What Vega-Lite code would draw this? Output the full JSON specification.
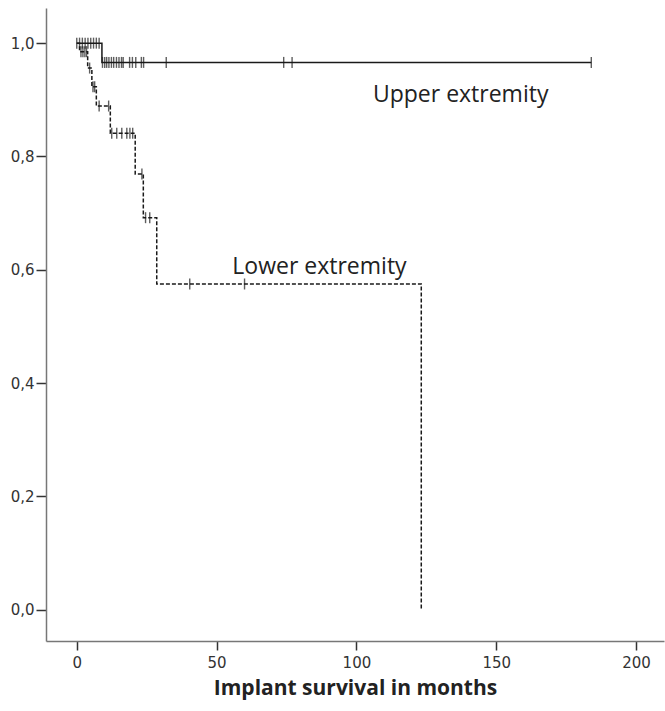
{
  "$schema": "https://vega.github.io/schema/vega-lite/v6.json",
  "width": 618,
  "height": 633,
  "autosize": {"type": "none"},
  "padding": {"left": 46, "top": 8, "right": 1, "bottom": 70},
  "background": "white",
  "config": {"view": {"stroke": null}},
  "datasets": {
    "curves": [
      {"group": "Upper", "t": 0, "s": 1.0},
      {"group": "Upper", "t": 9, "s": 0.966},
      {"group": "Upper", "t": 184, "s": 0.966},
      {"group": "Lower", "t": 0, "s": 1.0},
      {"group": "Lower", "t": 1, "s": 0.985},
      {"group": "Lower", "t": 3.9, "s": 0.956},
      {"group": "Lower", "t": 5.4, "s": 0.923},
      {"group": "Lower", "t": 7, "s": 0.889},
      {"group": "Lower", "t": 12, "s": 0.841},
      {"group": "Lower", "t": 20.9, "s": 0.769},
      {"group": "Lower", "t": 23.8, "s": 0.692},
      {"group": "Lower", "t": 28.6, "s": 0.575},
      {"group": "Lower", "t": 123.2, "s": 0.0}
    ],
    "censors": [
      {"group": "Upper", "t": 0.0, "s": 1.0},
      {"group": "Upper", "t": 1.0, "s": 1.0},
      {"group": "Upper", "t": 2.0, "s": 1.0},
      {"group": "Upper", "t": 3.0, "s": 1.0},
      {"group": "Upper", "t": 4.0, "s": 1.0},
      {"group": "Upper", "t": 5.0, "s": 1.0},
      {"group": "Upper", "t": 6.0, "s": 1.0},
      {"group": "Upper", "t": 7.0, "s": 1.0},
      {"group": "Upper", "t": 8.0, "s": 1.0},
      {"group": "Upper", "t": 9.2, "s": 0.966},
      {"group": "Upper", "t": 10.0, "s": 0.966},
      {"group": "Upper", "t": 10.7, "s": 0.966},
      {"group": "Upper", "t": 11.5, "s": 0.966},
      {"group": "Upper", "t": 12.4, "s": 0.966},
      {"group": "Upper", "t": 13.2, "s": 0.966},
      {"group": "Upper", "t": 14.2, "s": 0.966},
      {"group": "Upper", "t": 15.1, "s": 0.966},
      {"group": "Upper", "t": 16.0, "s": 0.966},
      {"group": "Upper", "t": 16.6, "s": 0.966},
      {"group": "Upper", "t": 18.9, "s": 0.966},
      {"group": "Upper", "t": 19.9, "s": 0.966},
      {"group": "Upper", "t": 21.1, "s": 0.966},
      {"group": "Upper", "t": 23.1, "s": 0.966},
      {"group": "Upper", "t": 23.9, "s": 0.966},
      {"group": "Upper", "t": 32.0, "s": 0.966},
      {"group": "Upper", "t": 74.0, "s": 0.966},
      {"group": "Upper", "t": 77.0, "s": 0.966},
      {"group": "Upper", "t": 184.0, "s": 0.966},
      {"group": "Lower", "t": 1.5, "s": 0.985},
      {"group": "Lower", "t": 2.2, "s": 0.985},
      {"group": "Lower", "t": 2.9, "s": 0.985},
      {"group": "Lower", "t": 3.5, "s": 0.985},
      {"group": "Lower", "t": 4.6, "s": 0.956},
      {"group": "Lower", "t": 5.8, "s": 0.923},
      {"group": "Lower", "t": 6.4, "s": 0.923},
      {"group": "Lower", "t": 8.0, "s": 0.889},
      {"group": "Lower", "t": 11.4, "s": 0.889},
      {"group": "Lower", "t": 12.5, "s": 0.841},
      {"group": "Lower", "t": 14.3, "s": 0.841},
      {"group": "Lower", "t": 16.1, "s": 0.841},
      {"group": "Lower", "t": 17.9, "s": 0.841},
      {"group": "Lower", "t": 19.0, "s": 0.841},
      {"group": "Lower", "t": 20.0, "s": 0.841},
      {"group": "Lower", "t": 23.3, "s": 0.769},
      {"group": "Lower", "t": 24.6, "s": 0.692},
      {"group": "Lower", "t": 26.1, "s": 0.692},
      {"group": "Lower", "t": 40.4, "s": 0.575},
      {"group": "Lower", "t": 60.0, "s": 0.575}
    ],
    "labels": [
      {"label": "Upper extremity", "t": 137.3, "s": 0.908},
      {"label": "Lower extremity", "t": 86.8, "s": 0.605}
    ]
  },
  "encoding": {
    "x": {
      "field": "t", "type": "quantitative",
      "scale": {"domain": [-11, 210], "nice": false, "zero": false},
      "axis": {
        "title": "Implant survival in months",
        "values": [0, 50, 100, 150, 200],
        "grid": false,
        "domainColor": "#777777",
        "domainWidth": 1.5,
        "tickColor": "#333333",
        "tickWidth": 1.5,
        "tickSize": 9,
        "labelFont": "DejaVu Sans",
        "labelFontSize": 15,
        "labelColor": "#333333",
        "labelPadding": 5,
        "titleFont": "Open Sans",
        "titleFontSize": 21,
        "titleFontWeight": "bold",
        "titleColor": "#222222",
        "titlePadding": 7
      }
    },
    "y": {
      "field": "s", "type": "quantitative",
      "scale": {"domain": [-0.055, 1.062], "nice": false, "zero": false},
      "axis": {
        "title": null,
        "values": [0, 0.2, 0.4, 0.6, 0.8, 1.0],
        "labelExpr": "replace(format(datum.value, '.1f'), '.', ',')",
        "grid": false,
        "domainColor": "#777777",
        "domainWidth": 1.5,
        "tickColor": "#333333",
        "tickWidth": 1.5,
        "tickSize": 10,
        "labelFont": "DejaVu Sans",
        "labelFontSize": 15,
        "labelColor": "#333333",
        "labelPadding": 2
      }
    }
  },
  "layer": [
    {
      "data": {"name": "curves"},
      "mark": {"type": "line", "interpolate": "step-after", "color": "#1a1a1a", "strokeWidth": 1.5},
      "encoding": {
        "detail": {"field": "group"},
        "order": {"field": "t", "type": "quantitative"},
        "strokeDash": {
          "field": "group", "type": "nominal",
          "scale": {"domain": ["Upper", "Lower"], "range": [[1, 0], [4, 2]]},
          "legend": null
        }
      }
    },
    {
      "data": {"name": "censors"},
      "mark": {"type": "tick", "orient": "vertical", "color": "#1a1a1a", "size": 11, "thickness": 1.4}
    },
    {
      "data": {"name": "labels"},
      "mark": {"type": "text", "font": "Open Sans", "fontSize": 23, "color": "#222222", "align": "center", "baseline": "middle"},
      "encoding": {"text": {"field": "label"}}
    }
  ]
}
